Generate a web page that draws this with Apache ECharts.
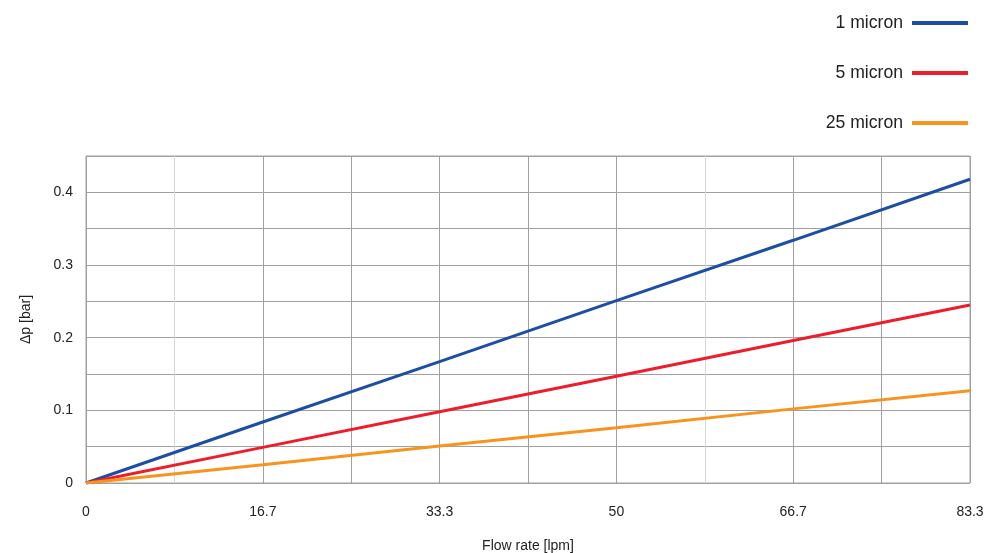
<!DOCTYPE html>
<html><head><meta charset="utf-8">
<script src="https://cdn.jsdelivr.net/npm/echarts@6/dist/echarts.min.js"></script>
<style>html,body{margin:0;padding:0;background:#fff;overflow:hidden}#c{width:1000px;height:553px}</style>
</head><body><div id="c"></div>
<script>
const flowRate = [0, 16.667, 33.333, 50, 66.667, 83.333];
const micron1 = [0, 0.084, 0.167, 0.251, 0.334, 0.418];
const micron5 = [0, 0.049, 0.098, 0.147, 0.196, 0.245];
const micron25 = [0, 0.025, 0.051, 0.076, 0.102, 0.127];
const seriesNames = ['1 micron', '5 micron', '25 micron'];
const colors = ['#1c4ea6', '#ee1d2b', '#f7941d'];
const font = '"Liberation Sans", Arial, sans-serif';
const xMax = 83.3333, xStep = xMax / 10;

const mk = (arr) => flowRate.map((x, i) => [x, arr[i]]);
const chart = echarts.init(document.getElementById('c'), null, {renderer: 'canvas'});
chart.setOption({
  animation: false,
  color: colors,
  grid: {left: 86, width: 884, top: 156, height: 327, show: true, borderColor: '#a0a0a0', borderWidth: 1, containLabel: false, outerBoundsMode: 'none'},
  legend: {
    right: 32, top: 14, padding: 0, orient: 'vertical', align: 'right',
    itemWidth: 56, itemHeight: 4, itemGap: 32, icon: 'rect',
    textStyle: {fontFamily: font, fontSize: 17.6, color: '#222', padding: [0, 4, 0, 0]},
    data: seriesNames
  },
  xAxis: {
    type: 'value', min: 0, max: xMax, interval: xStep,
    name: 'Flow rate [lpm]', nameLocation: 'middle', nameGap: 56,
    nameTextStyle: {fontFamily: font, fontSize: 14, color: '#222'},
    axisLine: {show: false}, axisTick: {show: false},
    axisLabel: {
      margin: 22, fontFamily: font, fontSize: 14, color: '#222',
      formatter: v => { const k = Math.round(v / xStep); return k % 2 === 0 ? String(Math.round(v * 10) / 10) : ''; }
    },
    splitLine: {show: true, lineStyle: {width: 1, color: ['#a0a0a0','#d8d8d8','#a0a0a0','#a0a0a0','#a0a0a0','#a0a0a0','#a0a0a0','#d8d8d8','#a0a0a0','#a0a0a0','#a0a0a0']}}
  },
  yAxis: {
    type: 'value', min: 0, max: 0.45, interval: 0.05,
    name: 'Δp [bar]', nameLocation: 'middle', nameGap: 53, nameRotate: 90,
    nameTextStyle: {fontFamily: font, fontSize: 14, color: '#222'},
    axisLine: {show: false}, axisTick: {show: false},
    axisLabel: {
      margin: 13, fontFamily: font, fontSize: 14, color: '#222',
      formatter: v => { const k = Math.round(v / 0.05); return (k % 2 === 0 && k < 9) ? String(Math.round(v * 10) / 10) : ''; }
    },
    splitLine: {show: true, lineStyle: {width: 1, color: '#a0a0a0'}}
  },
  series: [
    {name: seriesNames[0], type: 'line', data: mk(micron1), showSymbol: false, lineStyle: {width: 3}},
    {name: seriesNames[1], type: 'line', data: mk(micron5), showSymbol: false, lineStyle: {width: 3}},
    {name: seriesNames[2], type: 'line', data: mk(micron25), showSymbol: false, lineStyle: {width: 3}}
  ]
});
</script></body></html>
